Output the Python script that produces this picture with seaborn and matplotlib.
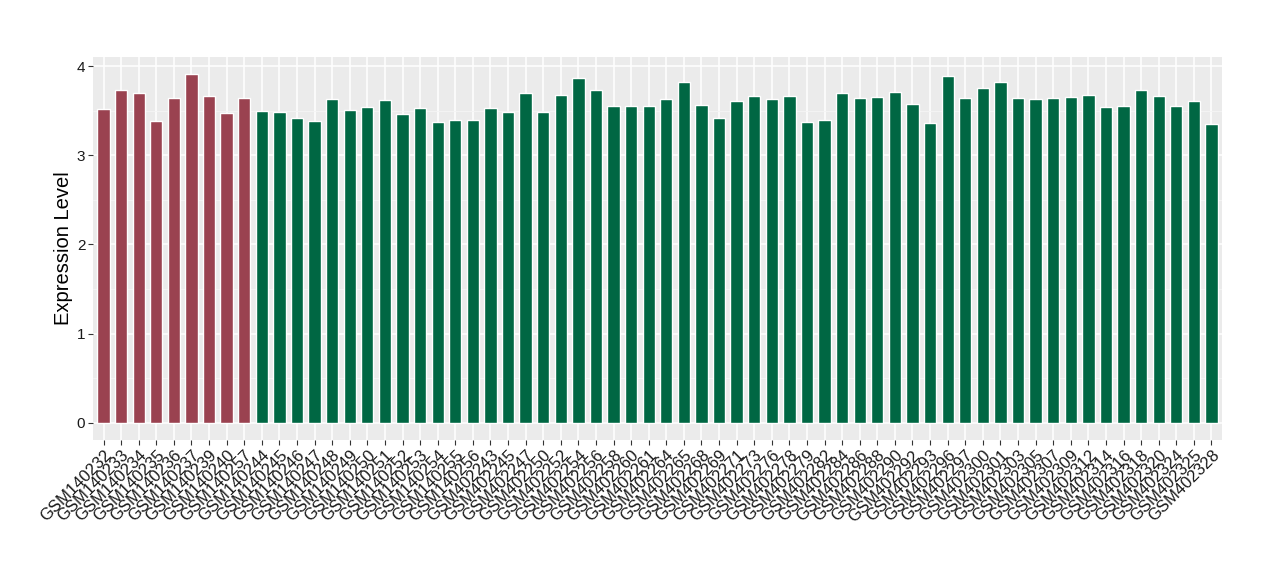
import numpy as np
import pandas as pd
import matplotlib
matplotlib.use("Agg")
import matplotlib.pyplot as plt
import seaborn as sns
from matplotlib.ticker import MultipleLocator

red_samples = ["GSM140232", "GSM140233", "GSM140234", "GSM140235", "GSM140236",
               "GSM140237", "GSM140239", "GSM140240", "GSM140257"]
red_values = [3.52, 3.74, 3.70, 3.39, 3.64, 3.91, 3.67, 3.48, 3.65]

green_samples = ["GSM140244", "GSM140245", "GSM140246", "GSM140247", "GSM140248",
                 "GSM140249", "GSM140250", "GSM140251", "GSM140252", "GSM140253",
                 "GSM140254", "GSM140255", "GSM140256",
                 "GSM402243", "GSM402245", "GSM402247", "GSM402250", "GSM402252",
                 "GSM402254", "GSM402256", "GSM402258", "GSM402260", "GSM402261",
                 "GSM402264", "GSM402265", "GSM402268", "GSM402269", "GSM402271",
                 "GSM402273", "GSM402276", "GSM402278", "GSM402279", "GSM402282",
                 "GSM402284", "GSM402286", "GSM402288", "GSM402290", "GSM402292",
                 "GSM402293", "GSM402296", "GSM402297", "GSM402300", "GSM402301",
                 "GSM402303", "GSM402305", "GSM402307", "GSM402309", "GSM402312",
                 "GSM402314", "GSM402316", "GSM402318", "GSM402320", "GSM402324",
                 "GSM402325", "GSM402328"]
green_values = [3.50, 3.49, 3.415, 3.39, 3.63, 3.515, 3.54, 3.62, 3.47, 3.53,
                3.37, 3.40, 3.40,
                3.53, 3.49, 3.70, 3.49, 3.68, 3.87, 3.74, 3.56, 3.55, 3.55,
                3.63, 3.83, 3.57, 3.42, 3.61, 3.67, 3.63, 3.67, 3.38, 3.40,
                3.70, 3.65, 3.66, 3.71, 3.58, 3.36, 3.89, 3.65, 3.76, 3.82,
                3.65, 3.63, 3.65, 3.66, 3.68, 3.54, 3.56, 3.74, 3.67, 3.56,
                3.61, 3.35]

red_color = "#9A4250"
green_color = "#006743"

df = pd.DataFrame({
    "sample": red_samples + green_samples,
    "value": red_values + green_values,
    "group": ["a"] * len(red_samples) + ["b"] * len(green_samples),
})

sns.set_theme(style="darkgrid")
plt.rcParams["font.family"] = ["Liberation Sans", "DejaVu Sans"]

fig = plt.figure(figsize=(12.8, 5.8), dpi=100)
ax = fig.add_axes([93 / 1280, 1 - 440 / 580, (1222 - 93) / 1280, (440 - 57) / 580])
ax.set_facecolor("#EBEBEB")

sns.barplot(data=df, x="sample", y="value", hue="group",
            palette={"a": red_color, "b": green_color},
            dodge=False, width=0.7, legend=False, ax=ax, saturation=1)

n = len(df)
ax.set_xlim(-0.6, n - 1 + 0.6)
ax.set_ylim(-0.1955, 4.1055)
ax.yaxis.set_major_locator(MultipleLocator(1))
ax.yaxis.set_minor_locator(MultipleLocator(0.5))
ax.grid(which="major", color="white", linewidth=1.1)
ax.grid(which="minor", axis="y", color="#F5F5F5", linewidth=0.6)
ax.set_axisbelow(True)
for s in ax.spines.values():
    s.set_visible(False)

ax.set_xlabel("")
ax.set_ylabel("Expression Level", fontsize=14.5, color="black", labelpad=3)
ax.tick_params(axis="both", which="major", length=3.5, width=0.8, color="#333333",
               pad=2, bottom=True, left=True)
ax.tick_params(axis="y", labelsize=11, labelcolor="#1a1a1a")
ax.tick_params(axis="x", labelsize=12, labelcolor="#1a1a1a")
ax.tick_params(which="minor", length=0)
plt.setp(ax.get_xticklabels(), rotation=45, ha="right", rotation_mode="anchor")

fig.savefig("out.png", dpi=100)
